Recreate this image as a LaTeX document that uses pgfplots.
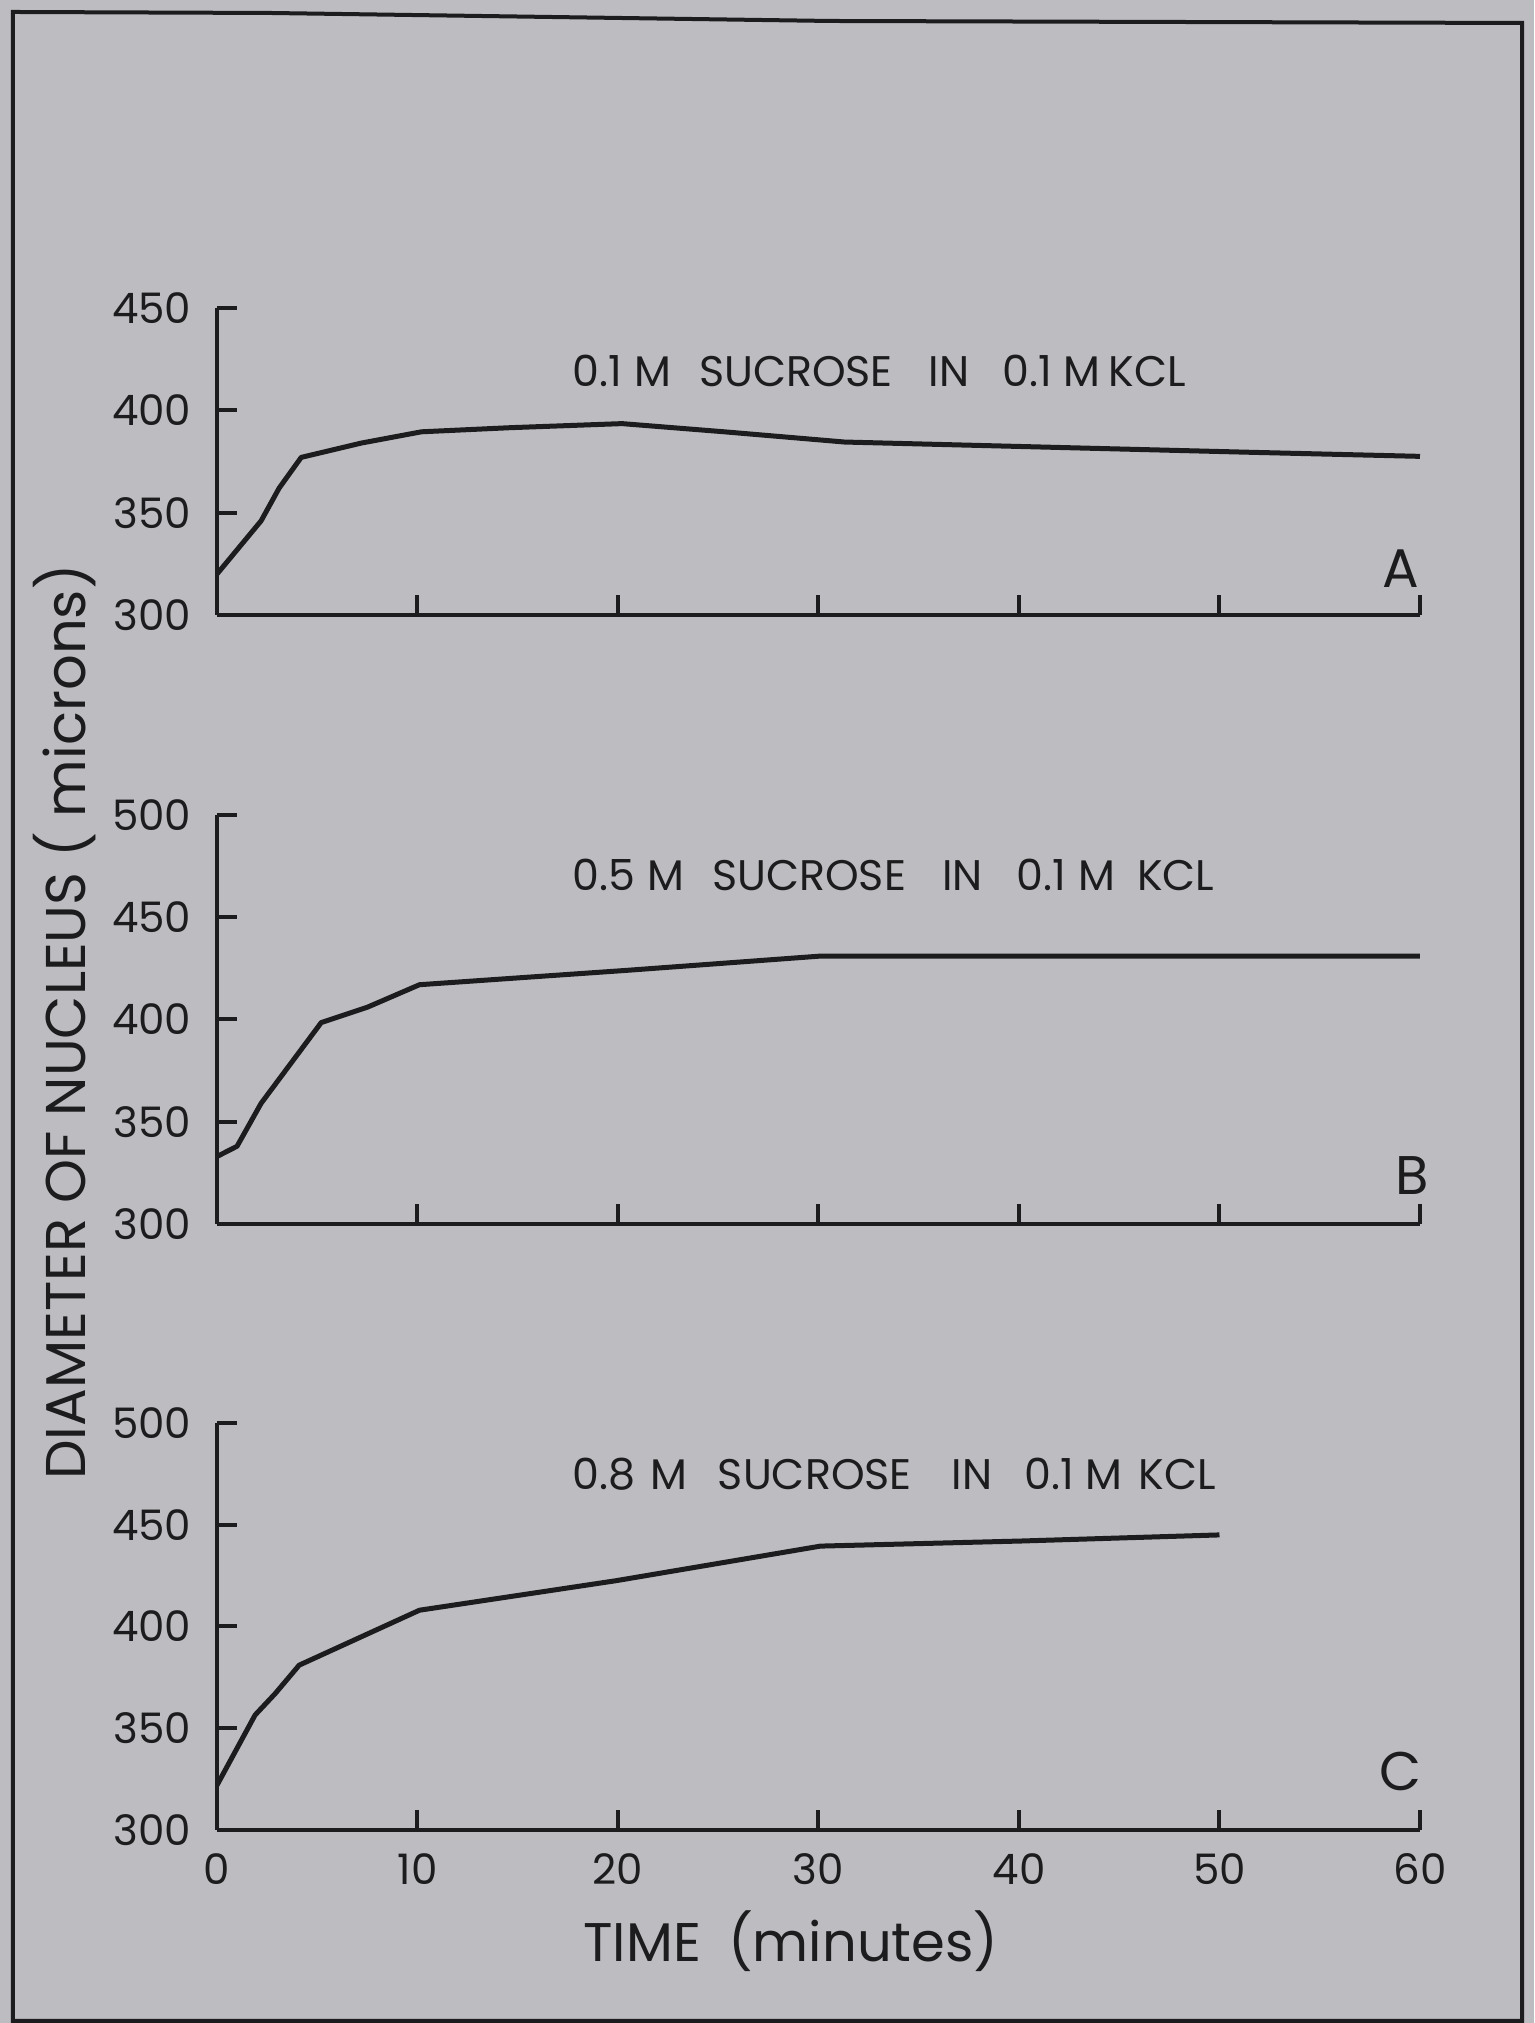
\documentclass[border=0pt]{standalone}
\usepackage{pgfplots}
\pgfplotsset{compat=1.18}
\usepackage{fontspec}
\setmainfont{Poppins}
\definecolor{paper}{RGB}{189,189,193}
\definecolor{ink}{RGB}{28,28,30}

\pgfplotsset{
  panel/.style={
    scale only axis, width=300.75pt,
    xmin=0, xmax=60, ymin=300,
    axis lines*=left,
    axis line style={ink, line width=1pt},
    tick align=inside, major tick length=5pt,
    tick style={ink, line width=1pt},
    xtick={0,10,...,60}, ytick distance=50,
    clip=false, anchor=south west,
    /pgf/number format/assume math mode=true,
    tick label style={font=\fontsize{10.5}{12}\selectfont, text=ink},
    yticklabel style={inner sep=0pt, xshift=-6.25pt},
    xticklabel style={inner sep=0pt, yshift=-5.75pt},
  },
  nox/.style={xticklabels={,,,,,,}},
  curve/.style={ink, line width=1.25pt, line join=round, no marks},
}
\tikzset{
  note/.style={font=\fontsize{10.7}{12}\selectfont, text=ink, anchor=west, inner sep=0pt},
  letter/.style={font=\fontsize{13.6}{16}\selectfont, text=ink},
}
\newcommand{\gap}[1]{\hspace*{#1pt}}

\begin{document}
\begin{tikzpicture}
\fill[paper] (0,0) rectangle (383.5pt,505.75pt);
\draw[ink, line width=1pt] (3.2pt,502.75pt) -- (67.5pt,502.5pt) -- (207.5pt,500.5pt)
  -- (380.5pt,500pt) -- (380.5pt,0.5pt) -- (3.2pt,0.5pt) -- cycle;

% A
\begin{axis}[panel, nox, at={(54.25pt,352pt)}, height=76.75pt, ymax=450]
\addplot[curve] coordinates {
  (0,320) (2.2,346) (3.1,362) (4.2,377) (7.2,384) (10.2,389.5) (14.6,391.5)
  (20.2,393.5) (25.3,389.5) (31.3,384.5) (43.4,381.5) (51.5,379.5) (60,377.5)
};
\node[note] at (axis cs:17.7,419.2) {0.1\gap{3}M\gap{7}SUCROSE\gap{9}IN\gap{8.2}0.1\gap{3}M\gap{2}KCL};
\node[letter] at (axis cs:59.05,322.5) {A};
\end{axis}

% B
\begin{axis}[panel, nox, at={(54.25pt,199.75pt)}, height=102.25pt, ymax=500]
\addplot[curve] coordinates {
  (0,333) (1.0,338) (2.2,359) (5.2,398.5) (7.5,406) (10.1,417) (20.4,424)
  (30.1,431) (60,431)
};
\node[note] at (axis cs:17.7,470.7) {0.5\gap{3}M\gap{7}SUCROSE\gap{9}IN\gap{8.5}0.1\gap{3}M\gap{5.5}KCL};
\node[letter] at (axis cs:59.6,323.5) {B};
\end{axis}

% C
\begin{axis}[panel, at={(54.25pt,48.25pt)}, height=101.75pt, ymax=500]
\addplot[curve] coordinates {
  (0,322) (1.9,356.5) (2.9,367) (4.1,381) (10.1,408) (19.9,422.5)
  (30.1,439.5) (40.1,442) (50,445)
};
\node[note] at (axis cs:17.7,475) {0.8\gap{3.8}M\gap{7.6}SUCROSE\gap{10}IN\gap{8}0.1\gap{3}M\gap{4}KCL};
\node[letter] at (axis cs:59.05,329) {C};
\end{axis}

\node[letter, font=\fontsize{14}{16}\selectfont, rotate=90] at (16.25pt,250.25pt) {DIAMETER OF NUCLEUS ( microns)};
\node[letter] at (197.75pt,20.5pt) {TIME\enspace (minutes)};

\pgfresetboundingbox
\path[use as bounding box] (0,0) rectangle (383.5pt,505.75pt);
\end{tikzpicture}
\end{document}
